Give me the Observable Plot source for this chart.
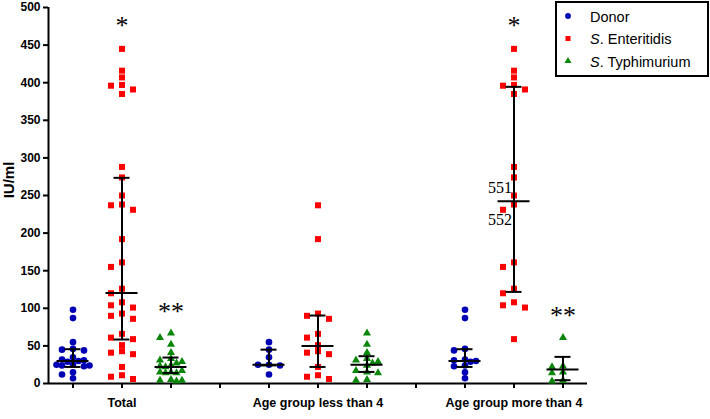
<!DOCTYPE html>
<html>
<head>
<meta charset="utf-8">
<script src="https://cdn.jsdelivr.net/npm/d3@7"></script>
<script src="https://cdn.jsdelivr.net/npm/@observablehq/plot@0.6"></script>
<style>
  body { margin: 0; background: #fff; }
  #chart { width: 710px; height: 419px; }
</style>
</head>
<body>
<div id="chart"></div>
<script>
// ---------- data ----------
const groups = ["Total", "Age group less than 4", "Age group more than 4"];
const seriesNames = ["Donor", "S. Enteritidis", "S. Typhimurium"];
const yTicks = [0, 50, 100, 150, 200, 250, 300, 350, 400, 450, 500];
const yLabel = "IU/ml";

const donorLess4 = [55, 45, 35, 25, 25, 24, 12];
const donorMore4 = [98, 87, 46, 44, 32, 31, 30, 29, 24, 23, 15, 7];
const entLess4 = [237, 192, 93, 90, 86, 66, 61, 51, 43, 41, 39, 22, 11, 9, 6];
const entMore4 = [445, 416, 407, 397, 396, 391, 385, 288, 274, 250, 238, 231, 161, 155, 126, 120, 108, 104, 101, 59];
const typhLess4 = [67, 52, 41, 33, 31, 29, 27, 24, 17, 15, 14, 5, 4];
const typhMore4 = [61, 23, 22, 15, 14, 4, 3];
// "Total" is the union of both age groups
const donorTotal = donorLess4.concat(donorMore4);
const entTotal = entLess4.concat(entMore4);
const typhTotal = typhLess4.concat(typhMore4);

// median and interquartile range per group (Total, <4, >4)
const donorMedian = [30, 25, 30];
const donorQ1 = [22, 24, 22];
const donorQ3 = [45.6, 45, 45.6];
const entMedian = [120.5, 50, 242.4];
const entQ1 = [58.5, 22, 121.8];
const entQ3 = [273.5, 90.4, 394.5];
const typhMedian = [22, 25, 18.6];
const typhQ1 = [14, 15.4, 4.4];
const typhQ3 = [34.5, 36.3, 35.4];

// annotations: text, group index, series index, value level
const annText = ["*", "*", "**", "**"];
const annGroup = [0, 2, 0, 2];
const annSeries = [1, 1, 2, 2];
const annValue = [480.5, 480.5, 101, 95];
const noteText = ["551", "552"];
const noteValue = [260, 218];

// ---------- build tables ----------
const colors = ["#0000b4", "#ff0000", "#0a870a"];
const symbols = ["circle", "square", "triangle"];
const radii = [3.3, 3.4, 3.0];
const valuesBy = [
  [donorTotal, entTotal, typhTotal],
  [donorLess4, entLess4, typhLess4],
  [donorMore4, entMore4, typhMore4]
];
const stats = [
  [donorMedian, donorQ1, donorQ3],
  [entMedian, entQ1, entQ3],
  [typhMedian, typhQ1, typhQ3]
];
const slotOf = (g, s) => g * 4 + s + 1;
const slots = d3.range(1, 12);
const slotPx = 49;                       // width of one slot in pixels
const yPx = d3.scaleLinear([0, 500], [383, 7]);

// simple column-scatter layout (pixel offsets)
function swarm(values) {
  const placed = [];
  const cands = [0, -11, 11, 5.5, -5.5, -16.5, 16.5];
  return values.slice().sort((a, b) => b - a).map(v => {
    const y = yPx(v);
    let best = 0, bestCost = Infinity;
    for (const c of cands) {
      const cost = placed.filter(q => Math.abs(q.x - c) < 5.5 && Math.abs(q.y - y) < 6).length;
      if (cost < bestCost) { bestCost = cost; best = c; }
      if (cost === 0) break;
    }
    placed.push({x: best, y});
    return {value: v, off: best};
  });
}

const points = [];
const summary = [];
groups.forEach((g, gi) => {
  seriesNames.forEach((s, si) => {
    const slot = slotOf(gi, si);
    swarm(valuesBy[gi][si]).forEach(p => points.push({series: si, slot, x: slot + p.off / slotPx, value: p.value}));
    summary.push({slot, med: stats[si][0][gi], q1: stats[si][1][gi], q3: stats[si][2][gi]});
  });
});
const ann = annText.map((t, i) => ({text: t, slot: slotOf(annGroup[i], annSeries[i]), value: annValue[i]}));
const notes = noteText.map((t, i) => ({text: t, slot: slotOf(2, 1), value: noteValue[i]}));

const capHalf = 8 / slotPx, medHalf = 16 / slotPx;
const labelAt = {2: groups[0], 6: groups[1], 10: groups[2]};

const chart = Plot.plot({
  width: 710,
  height: 419,
  marginLeft: 48,
  marginRight: 123,
  marginTop: 7,
  marginBottom: 36,
  x: {domain: [0.5, 11.5]},
  y: {domain: [0, 500]},
  style: {fontFamily: "'Liberation Sans', Arial, sans-serif", color: "black", background: "white"},
  marks: [
    Plot.axisY({ticks: yTicks, tickSize: 5, tickPadding: 3, fontSize: 12, fontWeight: "bold", strokeWidth: 2, label: null}),
    Plot.axisX({ticks: slots, tickSize: 5, tickPadding: 10, fontSize: 12.5, fontWeight: "bold", strokeWidth: 2,
                tickFormat: d => labelAt[d] || "", label: null}),
    Plot.ruleY([0], {strokeWidth: 2}),
    Plot.ruleX([0.5], {strokeWidth: 2}),
    ...[0, 1, 2].map(si => Plot.dot(points.filter(p => p.series === si), {
      x: "x", y: "value", symbol: symbols[si], r: radii[si], fill: colors[si], stroke: "none"
    })),
    Plot.ruleX(summary, {x: "slot", y1: "q1", y2: "q3", strokeWidth: 2}),
    Plot.ruleY(summary, {y: "q1", x1: d => d.slot - capHalf, x2: d => d.slot + capHalf, strokeWidth: 2}),
    Plot.ruleY(summary, {y: "q3", x1: d => d.slot - capHalf, x2: d => d.slot + capHalf, strokeWidth: 2}),
    Plot.ruleY(summary, {y: "med", x1: d => d.slot - medHalf, x2: d => d.slot + medHalf, strokeWidth: 2}),
    Plot.text(ann, {x: "slot", y: "value", text: "text", fontSize: 26, fontFamily: "'Liberation Serif', 'Times New Roman', serif", dy: 4}),
    Plot.text(notes, {x: "slot", y: "value", text: "text", textAnchor: "end", dx: -2, fontSize: 16,
                      fontFamily: "'Liberation Serif', 'Times New Roman', serif"})
  ]
});

const svg = d3.select(chart);
// y-axis title
svg.append("text")
  .attr("transform", "translate(14,180) rotate(-90)")
  .attr("text-anchor", "middle")
  .attr("font-size", 15).attr("font-weight", "bold").attr("fill", "black")
  .text(yLabel);

// legend drawn inside the svg, top right
const lg = svg.append("g").attr("font-family", "'Liberation Sans', Arial, sans-serif")
  .attr("font-size", 14.5).attr("text-anchor", "start");
lg.append("rect").attr("x", 556).attr("y", 2).attr("width", 152).attr("height", 74)
  .attr("fill", "white").attr("stroke", "black").attr("stroke-width", 2);
const d3sym = [d3.symbolCircle, d3.symbolSquare, d3.symbolTriangle];
const symSize = [26, 25, 22];
seriesNames.forEach((name, i) => {
  const cy = 16 + i * 22.5;
  lg.append("path").attr("transform", `translate(568,${cy})`)
    .attr("d", d3.symbol(d3sym[i], symSize[i])()).attr("fill", colors[i]);
  const t = lg.append("text").attr("x", 590).attr("y", cy + 5.5).attr("fill", "black")
    .attr("text-anchor", "start");
  if (name.startsWith("S. ")) {
    t.append("tspan").attr("font-style", "italic").text("S");
    t.append("tspan").text(name.slice(1));
  } else {
    t.text(name);
  }
});

document.getElementById("chart").appendChild(chart);
</script>
</body>
</html>
